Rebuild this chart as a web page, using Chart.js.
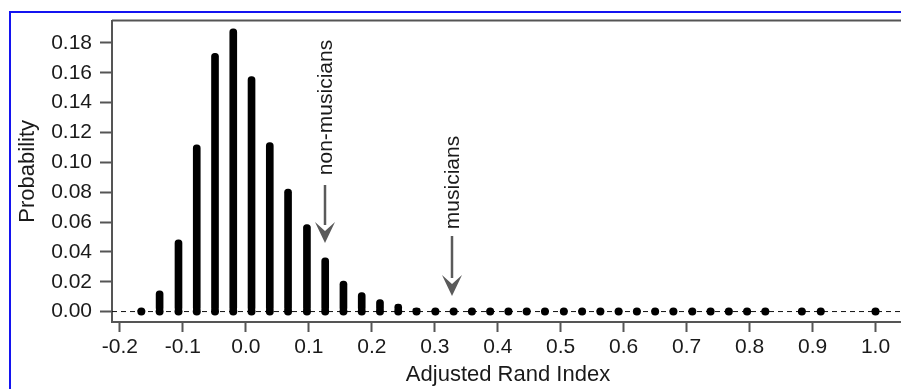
<!DOCTYPE html>
<html>
<head>
<meta charset="utf-8">
<script src="https://cdn.jsdelivr.net/npm/chart.js@4.4.1/dist/chart.umd.min.js"></script>
<style>
html,body{margin:0;padding:0;background:#fff;overflow:hidden;}
#wrap{position:relative;width:901px;height:389px;overflow:hidden;}
#frame{position:absolute;left:9px;top:11px;width:1000px;height:500px;border-left:2px solid #1414f0;border-top:2px solid #1414f0;}
#ariChart{position:absolute;left:0;top:0;}
</style>
</head>
<body>
<div id="wrap"><div id="frame"></div><canvas id="ariChart" width="920" height="389"></canvas></div>
<script>
// adjusted rand index values (x) and their probabilities (y)
const ariValues = [-0.166,-0.137,-0.107,-0.078,-0.049,-0.020,0.009,0.038,0.067,0.097,
  0.126,0.155,0.184,0.213,0.242,0.271,0.301,0.330,0.359,0.388,
  0.417,0.446,0.475,0.505,0.534,0.563,0.592,0.621,0.650,0.679,
  0.709,0.738,0.767,0.796,0.825,0.883,0.913,1.000];
const probValues = [0.0008,0.0139,0.048,0.1117,0.173,0.1895,0.1575,0.1132,0.082,0.0583,
  0.036,0.0205,0.0128,0.0081,0.005,0.002,0.001,0.0005,0.0005,0.0005,
  0.0005,0.0005,0.0005,0.0005,0.0005,0.0005,0.0005,0.0005,0.0005,0.0005,
  0.0005,0.0005,0.0005,0.0005,0.0005,0.0005,0.0005,0.0005];

const xTickValues = [-0.2,-0.1,0.0,0.1,0.2,0.3,0.4,0.5,0.6,0.7,0.8,0.9,1.0];
const yTickValues = [0.00,0.02,0.04,0.06,0.08,0.10,0.12,0.14,0.16,0.18];

// observed group scores marked with arrows
const groupLabels = ["non-musicians","musicians"];
const groupAri = [0.126,0.327];

const FONT = "'Liberation Sans', Arial, sans-serif";
const AXIS = "#555";
const TEXT = "#1a1a1a";

const frameAndMarks = {
  id:'frameAndMarks',
  beforeDatasetsDraw(chart){
    const c = chart.ctx, a = chart.chartArea;
    const y0 = chart.scales.y.getPixelForValue(0);
    c.save();
    c.strokeStyle = "#111";
    c.lineWidth = 1;
    c.setLineDash([5,4]);
    c.beginPath();
    c.moveTo(a.left, y0);
    c.lineTo(a.right, y0);
    c.stroke();
    c.restore();
  },
  afterDraw(chart){
    const c = chart.ctx, a = chart.chartArea;
    const xs = chart.scales.x;
    c.save();
    // top frame line
    c.strokeStyle = AXIS;
    c.lineWidth = 2;
    c.beginPath();
    c.moveTo(a.left, a.top);
    c.lineTo(a.right, a.top);
    c.stroke();

    // x axis title, centred on the visible part of the plot
    c.fillStyle = TEXT;
    c.font = "22px " + FONT;
    c.textAlign = "center";
    c.textBaseline = "middle";
    c.fillText("Adjusted Rand Index", 508, 375);

    // text centre y, shaft top y, tip y (pixels)
    const layout = [[107.5,185,243],[182.5,236,296]];
    groupLabels.forEach((lab,i)=>{
      const x = Math.round(xs.getPixelForValue(groupAri[i]));
      const [ty, sTop, tip] = layout[i];
      c.save();
      c.translate(x, ty);
      c.rotate(-Math.PI/2);
      c.fillStyle = TEXT;
      c.font = "21px " + FONT;
      c.textAlign = "center";
      c.textBaseline = "middle";
      c.fillText(lab, 0, 1);
      c.restore();

      c.strokeStyle = "#5a5a5a";
      c.fillStyle = "#5a5a5a";
      c.lineWidth = 2.5;
      c.beginPath();
      c.moveTo(x, sTop);
      c.lineTo(x, tip - 18);
      c.stroke();
      c.beginPath();
      c.moveTo(x - 10, tip - 21);
      c.lineTo(x, tip - 12);
      c.lineTo(x + 10, tip - 21);
      c.lineTo(x, tip);
      c.closePath();
      c.fill();
    });
    c.restore();
  }
};

const ctx = document.getElementById("ariChart").getContext("2d");

const chart = new Chart(ctx,{
  type:'bar',
  data:{
    datasets:[
      {
        type:'bar',
        data:ariValues.map((x,i)=>({x:x,y:probValues[i]})),
        backgroundColor:'#000',
        barThickness:7,
        borderRadius:3.5,
        borderSkipped:false
      },
      {
        type:'line',
        data:ariValues.map(x=>({x:x,y:0})),
        showLine:false,
        pointRadius:4,
        pointBorderWidth:0,
        pointBackgroundColor:'#000'
      }
    ]
  },
  options:{
    responsive:false,
    animation:false,
    layout:{padding:{top:19,right:0,left:0,bottom:0}},
    plugins:{legend:{display:false},tooltip:{enabled:false}},
    scales:{
      x:{
        type:'linear',
        min:-0.2126,
        max:1.0643,
        offset:false,
        afterBuildTicks:s=>{s.ticks = xTickValues.map(v=>({value:v}));},
        afterFit:s=>{s.height = 67;},
        ticks:{
          color:TEXT,
          font:{family:FONT,size:21},
          padding:3,
          maxRotation:0,
          autoSkip:false,
          callback:v=>v.toFixed(1)
        },
        grid:{display:true,drawOnChartArea:false,drawTicks:true,offset:false,tickLength:10,tickWidth:2,tickColor:AXIS},
        border:{display:true,color:AXIS,width:2}
      },
      y:{
        min:-0.007,
        max:0.195,
        afterBuildTicks:s=>{s.ticks = yTickValues.map(v=>({value:v}));},
        afterFit:s=>{s.width = 112;},
        ticks:{
          color:TEXT,
          font:{family:FONT,size:21},
          padding:8,
          autoSkip:false,
          callback:v=>v.toFixed(2)
        },
        grid:{display:true,drawOnChartArea:false,drawTicks:true,tickLength:12,tickWidth:2,tickColor:AXIS},
        border:{display:true,color:AXIS,width:2},
        title:{display:true,text:'Probability',color:TEXT,font:{family:FONT,size:22,lineHeight:1.2},padding:{top:15,bottom:15}}
      }
    }
  },
  plugins:[frameAndMarks]
});
</script>
</body>
</html>
